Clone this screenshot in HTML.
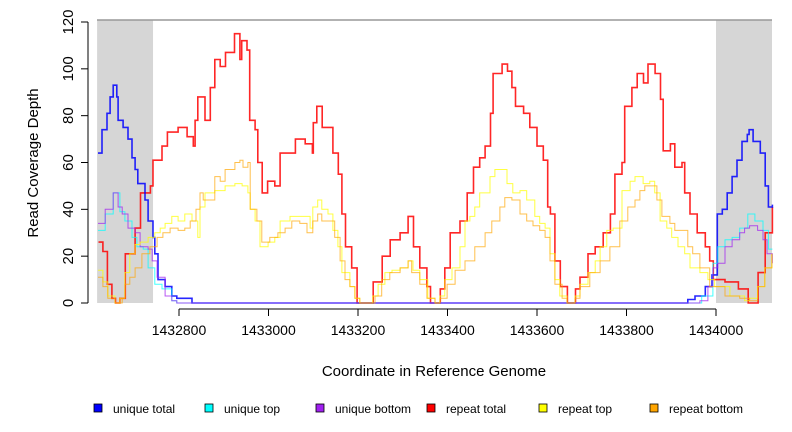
<!DOCTYPE html>
<html><head><meta charset="utf-8"><style>
body{margin:0;background:#fff}
svg{display:block;font-family:"Liberation Sans",sans-serif}
</style></head><body>
<svg id="chart" width="792" height="432" viewBox="0 0 792 432">
<g id="bg"></g><g id="series"></g><g id="axes"></g><g id="legend"></g>
</svg>
<script>
const BASE = 1432000;
const xTicks = [1432800,1433000,1433200,1433400,1433600,1433800,1434000];
const yTicks = [0,20,40,60,80,100,120];
const shadedRegions = [[617,742],[2000,2126]];
const seriesNames = ["unique total","unique top","unique bottom","repeat total","repeat top","repeat bottom"];
const seriesColors = ["#0000ff","#00ffff","#a020f0","#ff0000","#ffff00","#ffa500"];

const uniqueTotalPos = [619,628,639,646,653,661,664,675,686,695,702,708,724,731,742,746,753,769,784,795,829,1937,1953,1976,1991,2003,2014,2025,2036,2047,2058,2070,2074,2083,2099,2110,2117,2126];
const uniqueTotalVal = [64,74,81,88,93,88,78,75,70,62,57,51,44,35,28,21,10,7,3,2,0,1.5,3,7,12,38,40,47,54,61,69,72,74,69,64,50,41,42];

const uniqueTopPos = [619,635,653,668,679,695,706,720,731,746,762,784,795,1968,1993,2004,2020,2036,2053,2071,2087,2105,2117,2126];
const uniqueTopVal = [31,38,47,39,35,28,24,23,15,8,6,1,0,3,17,24,27,28,32,38,35,31,23,23];

const uniqueBottomPos = [619,635,653,664,673,686,702,713,731,740,751,769,784,795,1964,1982,1993,2004,2020,2036,2053,2064,2075,2093,2105,2114,2126];
const uniqueBottomVal = [34,40,47,41,38,32,30,24,23,18,11,3,1,0,1,7,15,17,24,27,30,32,33,31,27,21,17];

const repeatTotalPos = [620,630,640,650,658,668,680,702,714,736,742,762,774,798,818,832,836,842,858,870,880,892,904,918,924,936,940,952,958,970,976,986,998,1014,1026,1044,1060,1082,1098,1100,1108,1120,1138,1144,1156,1164,1172,1186,1198,1226,1234,1254,1272,1294,1312,1324,1338,1354,1362,1380,1384,1394,1406,1428,1444,1458,1472,1484,1496,1502,1522,1534,1544,1552,1570,1584,1600,1614,1624,1630,1640,1652,1668,1686,1696,1714,1730,1748,1764,1774,1790,1796,1812,1824,1838,1848,1864,1876,1882,1898,1908,1924,1930,1942,1958,1976,1986,1994,2020,2050,2072,2094,2110,2126];
const repeatTotalVal = [26,22,8,2,0,2,21,32,47,50,61,67,73,75,71,67,78,88,78,92,104,101,107,107,115,104,112,108,78,74,60,47,52,50,64,64,70,68,64,77,84,75,75,64,55,38,24,15,0,0,9,20,27,30,37,24,15,7,0,0,6,15,30,35,47,58,62,67,81,98,102,99,92,84,81,75,67,61,41,38,18,7,0,6,11,21,24,30,38,55,60,84,92,98,94,102,98,87,65,68,58,60,47,38,30,24,18,10,9,6,0,13,30,41];

const repeatTopPos = [619,630,641,657,668,679,690,702,713,731,746,758,769,784,798,813,829,842,847,858,880,903,925,941,954,959,970,981,999,1014,1026,1048,1070,1093,1099,1110,1119,1133,1144,1155,1164,1182,1193,1204,1233,1245,1260,1276,1294,1312,1323,1338,1356,1372,1383,1394,1410,1428,1439,1450,1461,1472,1495,1506,1521,1533,1546,1562,1577,1595,1606,1618,1629,1640,1651,1667,1685,1696,1714,1730,1741,1756,1770,1790,1808,1819,1837,1852,1863,1875,1890,1901,1915,1930,1942,1964,1982,1997,2031,2064,2075,2093,2109,2125];
const repeatTopVal = [14,9,3,0,2,13,21,25,26,28,30,32,34,37,35,38,35,28,41,47,48,50,51,50,47,40,35,24,26,28,35,37,37,32,41,44,40,38,31,24,13,7,2,0,3,8,13,14,15,18,14,10,2,0,3,10,15,24,35,37,41,47,54,57,57,51,47,48,44,37,34,32,21,10,3,0,3,8,13,18,24,31,32,48,52,54,51,52,47,35,32,28,24,21,15,13,10,7,3,1,2,7,15,21];

const repeatBottomPos = [619,630,641,657,673,679,690,702,717,735,751,764,780,798,813,825,838,847,854,869,880,892,903,925,936,943,954,959,974,985,1003,1021,1037,1052,1070,1086,1099,1110,1119,1137,1148,1160,1171,1182,1193,1204,1238,1253,1271,1294,1312,1320,1338,1354,1372,1383,1399,1417,1439,1461,1484,1499,1517,1528,1544,1562,1577,1591,1606,1618,1629,1640,1656,1667,1685,1696,1718,1741,1763,1785,1803,1819,1830,1841,1857,1868,1879,1897,1908,1924,1937,1948,1964,1986,2020,2053,2075,2093,2109,2125];
const repeatBottomVal = [11,7,2,0,2,8,11,15,21,24,28,30,32,31,32,35,40,47,44,44,54,52,57,60,61,58,60,40,35,26,28,30,32,35,34,30,35,38,35,35,28,18,10,7,2,0,3,10,13,15,18,13,8,2,0,2,8,14,18,24,30,35,41,45,44,38,35,33,31,28,18,8,2,0,2,7,13,18,24,35,41,44,48,50,50,44,37,34,31,31,24,21,15,7,3,2,1,7,15,21];

const NS = "http://www.w3.org/2000/svg";
const L = 97, R = 772, T = 20, B = 303;
function xScale(pos){ return 179 + (pos - 1432800) * (537/1200); }
function yScale(v){ return 303 - v * (281/120); }
function mk(tag, attrs, parent){ const e = document.createElementNS(NS, tag); for (const k in attrs) e.setAttribute(k, attrs[k]); parent.appendChild(e); return e; }

const bg = document.getElementById('bg');
shadedRegions.forEach((r, i) => {
  const x1 = Math.max(L, xScale(BASE + r[0])), x2 = Math.min(R, xScale(BASE + r[1]));
  const rc = mk('rect', {x:x1, y:T, width:x2-x1, height:B-T, fill:'#d6d6d6'}, bg);
  
  
});
const frame = mk('line', {x1:L, y1:T, x2:R, y2:T, stroke:'#999', 'stroke-width':1.5}, bg);



const sg = document.getElementById('series');
const allPos = [uniqueTotalPos, uniqueTopPos, uniqueBottomPos, repeatTotalPos, repeatTopPos, repeatBottomPos];
const allVal = [uniqueTotalVal, uniqueTopVal, uniqueBottomVal, repeatTotalVal, repeatTopVal, repeatBottomVal];
const widths = [1.6, 1, 1, 1.6, 1, 1];
const opac = [0.85, 0.75, 0.75, 0.85, 0.75, 0.7];
[3,0,1,2,4,5].forEach(i => {
  const P = allPos[i], V = allVal[i];
  let d = '';
  for (let k = 0; k < P.length; k++) {
    const x = xScale(BASE + P[k]).toFixed(1), y = yScale(V[k]).toFixed(1);
    if (k === 0) d += 'M' + x + ',' + y;
    else d += 'H' + x + 'V' + y;
  }
  const p = mk('path', {d:d, fill:'none', stroke:seriesColors[i], 'stroke-width':widths[i], 'stroke-opacity':opac[i]}, sg);
  
  
});

const ax = document.getElementById('axes');
const xa = mk('line', {x1:xScale(xTicks[0]), y1:309, x2:xScale(xTicks[xTicks.length-1]), y2:309, stroke:'#000'}, ax);


xTicks.forEach(t => {
  const x = xScale(t);
  const tk = mk('line', {x1:x, y1:309, x2:x, y2:316, stroke:'#000'}, ax);
  
  
  const lb = mk('text', {x:x, y:335, 'font-size':14, 'text-anchor':'middle'}, ax);
  lb.textContent = t;
  
  
});
const ya = mk('line', {x1:88, y1:yScale(0), x2:88, y2:yScale(120), stroke:'#000'}, ax);


yTicks.forEach(t => {
  const y = yScale(t);
  const tk = mk('line', {x1:81, y1:y, x2:88, y2:y, stroke:'#000'}, ax);
  
  
  const lb = mk('text', {x:0, y:0, 'font-size':15, 'text-anchor':'middle', transform:'translate(73,' + y + ') rotate(-90)'}, ax);
  lb.textContent = t;
  
  
});
const yt = mk('text', {x:0, y:0, 'font-size':15, 'text-anchor':'middle', transform:'translate(38,163) rotate(-90)'}, ax);
yt.textContent = 'Read Coverage Depth';


const xt = mk('text', {x:434, y:376, 'font-size':15, 'text-anchor':'middle'}, ax);
xt.textContent = 'Coordinate in Reference Genome';



const lg = document.getElementById('legend');
const legX = [94, 205, 316, 427, 539, 650];
seriesNames.forEach((n, i) => {
  const g = mk('g', {}, lg);
  
  
  mk('rect', {x:legX[i], y:404, width:8, height:8, fill:seriesColors[i], stroke:'#000', 'stroke-width':0.8}, g);
  const t = mk('text', {x:legX[i] + 19, y:413, 'font-size':12}, g);
  t.textContent = n;
});
</script>
</body></html>
